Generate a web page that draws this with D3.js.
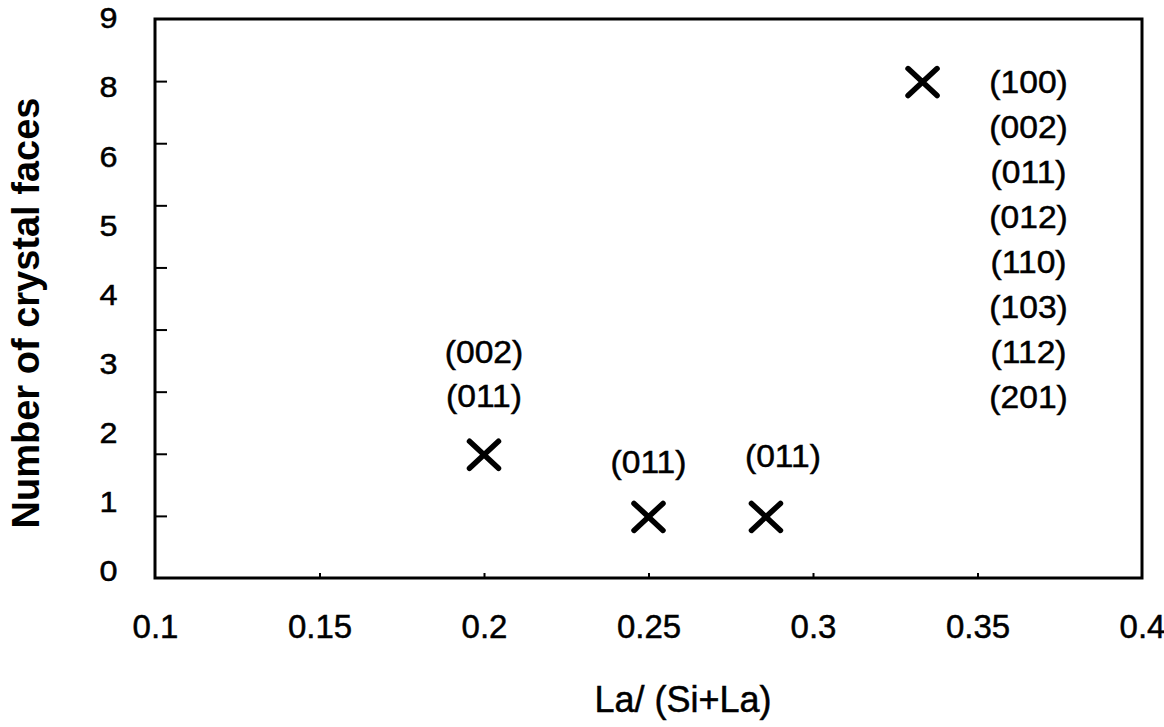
<!DOCTYPE html>
<html lang="en">
<head>
<meta charset="utf-8">
<title>Number of crystal faces vs La/(Si+La)</title>
<script src="https://cdn.jsdelivr.net/npm/d3@7"></script>
<style>
  body { margin: 0; background: #fff; }
  text { font-family: "Liberation Sans", Arial, Helvetica, sans-serif; fill: #000; }
  /* the scanned figure has slightly heavier type than plain regular */
  text.heavy { stroke: #000; stroke-width: 0.5px; }
</style>
</head>
<body>
<script>
// values
var ratio = [0.2, 0.25, 0.2857, 0.3333];      // La/(Si+La)
var faceCount = [2, 1, 1, 8];                 // number of crystal faces
var faceLabels = [
  ["(002)", "(011)"],
  ["(011)"],
  ["(011)"],
  ["(100)", "(002)", "(011)", "(012)", "(110)", "(103)", "(112)", "(201)"]
];
var xTicks = [0.1, 0.15, 0.2, 0.25, 0.3, 0.35, 0.4];
var yTicks = [0, 1, 2, 3, 4, 5, 6, 7, 8, 9];
// the original figure prints these labels, evenly spaced (no "7")
var yTickLabels = ["0", "1", "2", "3", "4", "5", "6", "8", "9"];

var w = 1164, h = 727;
// plot box edges (note: "top" is taken by window.top)
var plotLeft = 155, plotRight = 1142, plotTop = 19, plotBottom = 578;

var svg = d3.select("body").append("svg")
  .attr("width", w)
  .attr("height", h);

var x = d3.scaleLinear().domain([0.1, 0.4]).range([plotLeft, plotRight]);
var y = d3.scaleLinear().domain([0, 9]).range([plotBottom, plotTop]);

// label spots for the y tick texts
var yLab = d3.scalePoint().domain(yTickLabels).range([570, 17]);

// frame
svg.append("rect")
  .attr("x", x(0.1))
  .attr("y", y(9))
  .attr("width", x(0.4) - x(0.1))
  .attr("height", y(0) - y(9))
  .attr("fill", "none")
  .attr("stroke", "#000")
  .attr("stroke-width", 3);

// y ticks, pointing inwards
var yAxis = svg.append("g")
  .attr("transform", "translate(" + plotLeft + ",0)")
  .call(d3.axisLeft(y).tickValues(yTicks.slice(1, -1)).tickSize(-12).tickFormat(""));
yAxis.select(".domain").remove();
yAxis.selectAll(".tick line").attr("stroke", "#000").attr("stroke-width", 2);

// y tick labels
var yLabels = svg.append("g")
  .attr("transform", "translate(108.5,0)")
  .call(d3.axisLeft(yLab).tickSize(0).tickPadding(0));
yLabels.select(".domain").remove();
yLabels.selectAll(".tick text")
  .attr("class", "heavy")
  .attr("x", 0)
  .attr("dy", "0.36em")
  .attr("text-anchor", "middle")
  .attr("transform", "scale(1.08,1)")
  .attr("font-family", null)
  .attr("font-size", null)
  .style("font-size", "30px");

// x axis
var xAxis = svg.append("g")
  .attr("transform", "translate(0," + plotBottom + ")")
  .call(d3.axisBottom(x).tickValues(xTicks).tickSize(-5).tickPadding(37)
    .tickFormat(function(d) { return String(d); }));
xAxis.select(".domain").remove();
xAxis.selectAll(".tick line")
  .attr("stroke", "#000")
  .attr("stroke-width", 2)
  .attr("opacity", function(d) { return (d === 0.1 || d === 0.4) ? 0 : 1; });
xAxis.selectAll(".tick text")
  .attr("class", "heavy")
  .attr("font-family", null)
  .attr("font-size", null)
  .style("font-size", "33px");

// axis titles
svg.append("text")
  .attr("class", "heavy")
  .attr("x", 683)
  .attr("y", 712)
  .attr("text-anchor", "middle")
  .style("font-size", "36px")
  .text("La/ (Si+La)");

svg.append("text")
  .attr("transform", "translate(39,313) rotate(-90)")
  .attr("text-anchor", "middle")
  .style("font-size", "38px")
  .style("font-weight", "bold")
  .text("Number of crystal faces");

// points as crosses
var points = ratio.map(function(r, i) {
  return { x: r, y: faceCount[i], labels: faceLabels[i] };
});

svg.selectAll("path.cross")
  .data(points)
  .enter()
  .append("path")
  .attr("class", "cross")
  .attr("transform", function(d) { return "translate(" + x(d.x) + "," + (y(d.y) + 1) + ")"; })
  .attr("d", "M-14.5,-13.5L14.5,13.5M-14.5,13.5L14.5,-13.5")
  .attr("stroke", "#000")
  .attr("stroke-width", 5.5)
  .attr("stroke-linecap", "round")
  .attr("fill", "none");

// where each group of face labels sits relative to its point
var labelPos = [
  { dx: 0, dy: -102, step: 44 },
  { dx: 0, dy: -54, step: 44 },
  { dx: 17, dy: -60, step: 44 },
  { dx: 106, dy: 0, step: 45 }
];

var groups = svg.selectAll("g.faces")
  .data(points)
  .enter()
  .append("g")
  .attr("class", "faces")
  .attr("transform", function(d, i) {
    return "translate(" + (x(d.x) + labelPos[i].dx) + "," + (y(d.y) + labelPos[i].dy) + ")";
  });

groups.each(function(d, i) {
  d3.select(this).selectAll("text")
    .data(d.labels)
    .enter()
    .append("text")
    .attr("class", "heavy")
    .attr("transform", function(t, j) { return "translate(0," + j * labelPos[i].step + ") scale(1.05,1)"; })
    .attr("dy", "0.36em")
    .attr("text-anchor", "middle")
    .style("font-size", "32px")
    .text(function(t) { return t; });
});
</script>
</body>
</html>
